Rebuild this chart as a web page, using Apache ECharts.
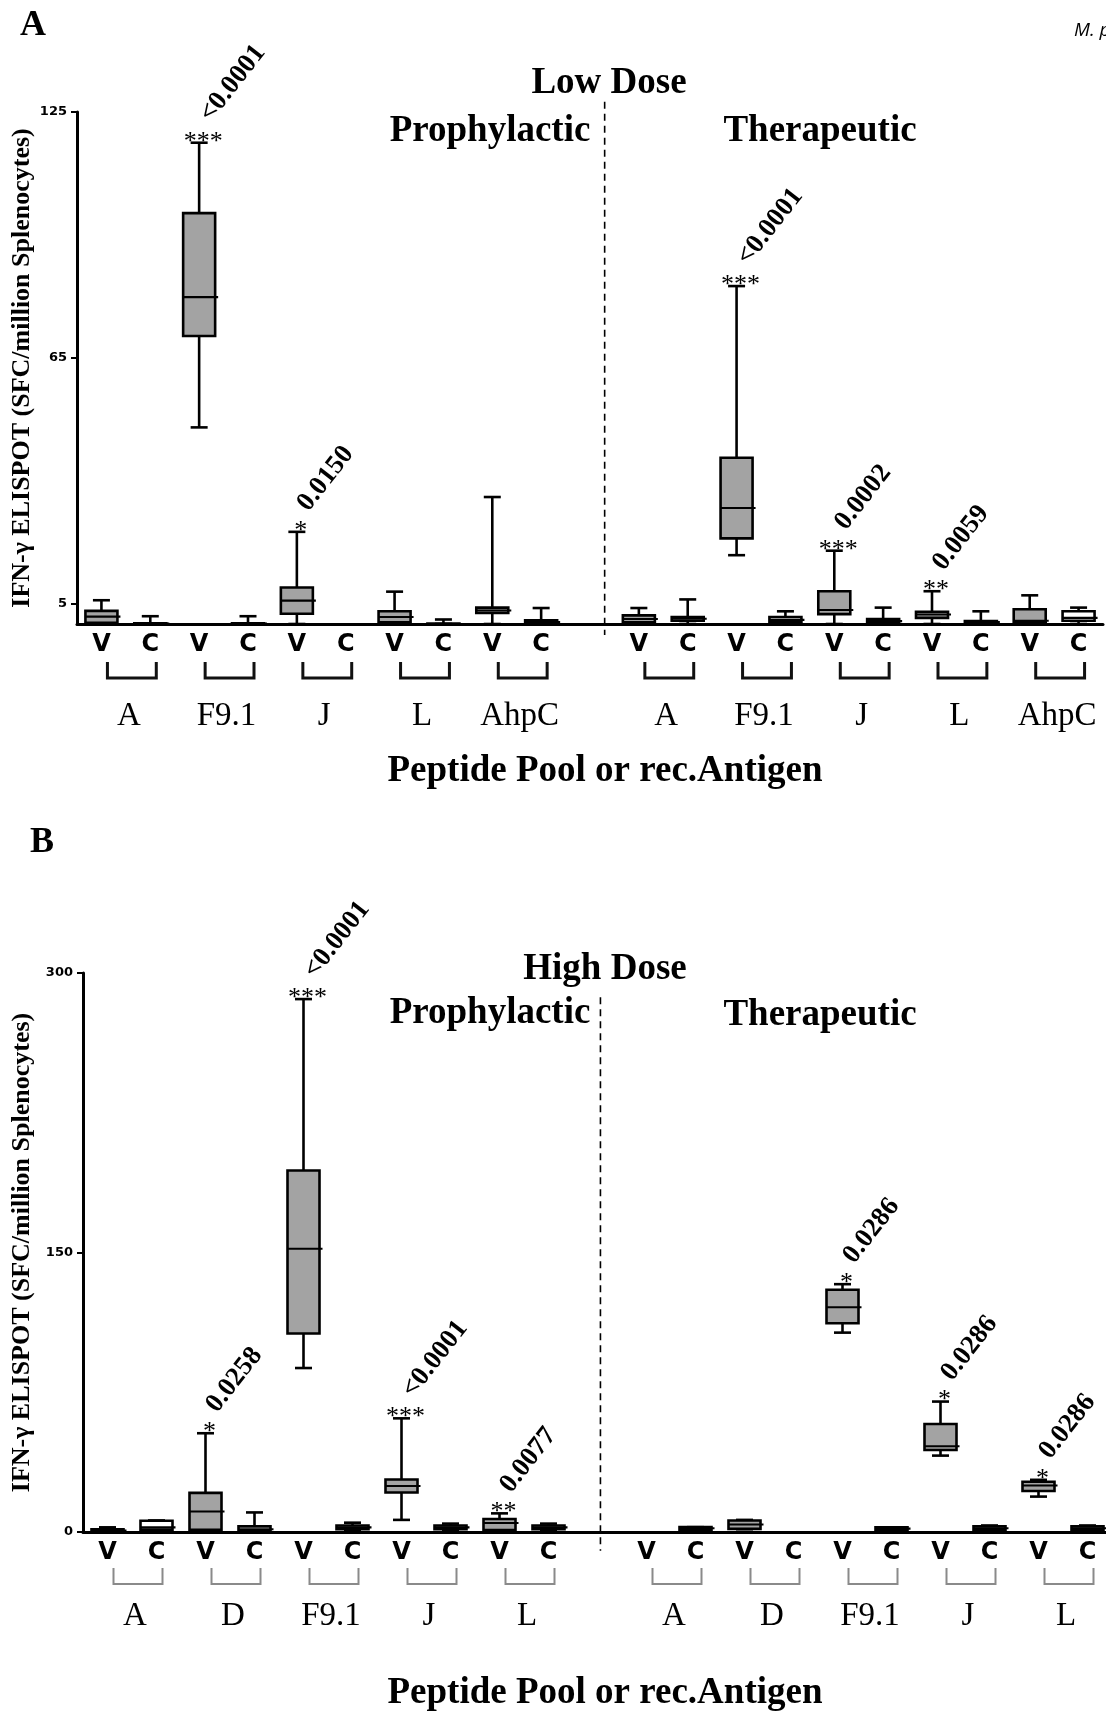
<!DOCTYPE html>
<html><head><meta charset="utf-8">
<script src="https://cdn.jsdelivr.net/npm/echarts@6/dist/echarts.min.js"></script>
<style>html,body{margin:0;padding:0;background:#fff}#c{width:1106px;height:1716px}</style>
</head><body><div id="c"></div>
<script>
// ---------- data ----------
const vcLabels = ['V', 'C'];
const groupsLow = ['A', 'F9.1', 'J', 'L', 'AhpC'];
const groupsHigh = ['A', 'D', 'F9.1', 'J', 'L'];
const yTicksLow = [5, 65, 125];
const yTicksHigh = [0, 150, 300];
// box values: [min, q1, median, q3, max]
const lowProV  = [[0,0.3,1.8,3.2,5.8],[48,70.3,79.8,100.3,117.5],[0,2.5,5.7,8.9,22.5],[0,0.4,1.7,3.1,7.9],[0,2.7,3.3,4.0,31]];
const lowProC  = [[0,0,0.1,0.2,1.9],[0,0,0.1,0.2,1.9],null,[0,0,0,0.1,1.1],[0,0.2,0.5,0.9,3.9]];
const lowTherV = [[0,0.4,1.2,2.1,3.9],[16.8,20.9,28.3,40.6,82.5],[0,2.4,3.4,8.0,17.9],[0,1.5,2.3,3.0,8.0],[0,0.4,0.8,3.6,7.0]];
const lowTherC = [[0,0.8,1.3,1.7,6.0],[0,0.4,1.0,1.7,3.1],[0,0.3,0.7,1.2,4.0],[0,0.2,0.5,0.7,3.1],[0,0.8,1.5,3.1,4.0]];
const highProV  = [[0,0.3,0.8,1.5,2.5],[0,1.2,11,21,53],[88,106.5,152,194,286],[6.5,21.2,24.7,28.2,61],[0,1,4.8,7,10]];
const highProC  = [[0.5,1.3,2.5,6.0,6.2],[0,0.5,1.5,3,10.5],[0.5,1.5,2.5,3.5,5],[0.5,1.5,2.5,3.5,4.5],[0.5,1.5,2.5,3.5,4.5]];
const highTherV = [null,[1.5,1.7,4,6.2,6.5],[107,112,120.6,130,133],[41,44,46,58,70],[19,22,25,27,28]];
const highTherC = [[1,1.2,2,2.6,2.6],null,[0.8,1,1.8,2.5,2.5],[0,1,2,3,3.5],[0.5,1,2,3,3.5]];
// significance: [regimen, group, stars, p-value]
const lowSig = [['pro','F9.1','***','<0.0001'],['pro','J','*','0.0150'],['ther','F9.1','***','<0.0001'],['ther','J','***','0.0002'],['ther','L','**','0.0059']];
const highSig = [['pro','D','*','0.0258'],['pro','F9.1','***','<0.0001'],['pro','J','***','<0.0001'],['pro','L','**','0.0077'],['ther','F9.1','*','0.0286'],['ther','J','*','0.0286'],['ther','L','*','0.0286']];

// ---------- build tables ----------
function slotOf(reg, g, k) { return (reg === 'pro' ? 0 : 11) + g * 2 + k; }
function buildPanel(groups, proV, proC, therV, therC, sig) {
  const labels = [];
  groups.forEach(() => vcLabels.forEach(l => labels.push(l)));
  labels.push('');
  groups.forEach(() => vcLabels.forEach(l => labels.push(l)));
  const boxes = [];
  const add = (arr, reg, k) => arr.forEach((b, g) => { if (b) boxes.push([slotOf(reg, g, k)].concat(b, [k === 0 ? 1 : 0])); });
  add(proV, 'pro', 0); add(proC, 'pro', 1); add(therV, 'ther', 0); add(therC, 'ther', 1);
  const brackets = [], bracketNames = [];
  ['pro', 'ther'].forEach(reg => groups.forEach((name, g) => { brackets.push([slotOf(reg, g, 0), slotOf(reg, g, 1)]); bracketNames.push(name); }));
  const sigData = sig.map(s => {
    const g = groups.indexOf(s[1]);
    const v = (s[0] === 'pro' ? proV : therV)[g];
    return [slotOf(s[0], g, 0), v[4]];
  });
  return { labels, boxes, brackets, bracketNames, sigData, sigText: sig };
}
const low = buildPanel(groupsLow, lowProV, lowProC, lowTherV, lowTherC, lowSig);
const high = buildPanel(groupsHigh, highProV, highProC, highTherV, highTherC, highSig);

const SERIF = '"Liberation Serif", "Times New Roman", serif';
const SANS = '"DejaVu Sans", sans-serif';

function boxRender(lw) {
  return function (params, api) {
    const x = api.value(0);
    const v = [1, 2, 3, 4, 5].map(i => api.value(i));
    const isV = api.value(6);
    const p = v.map(val => api.coord([x, val]));
    const cx = p[0][0], hw = 16, cap = 8.5;
    const st = { stroke: '#000', lineWidth: lw };
    return { type: 'group', children: [
      { type: 'line', shape: { x1: cx, y1: p[0][1], x2: cx, y2: p[1][1] }, style: st },
      { type: 'line', shape: { x1: cx, y1: p[3][1], x2: cx, y2: p[4][1] }, style: st },
      { type: 'line', shape: { x1: cx - cap, y1: p[0][1], x2: cx + cap, y2: p[0][1] }, style: st },
      { type: 'line', shape: { x1: cx - cap, y1: p[4][1], x2: cx + cap, y2: p[4][1] }, style: st },
      { type: 'rect', shape: { x: cx - hw, y: p[3][1], width: 2 * hw, height: p[1][1] - p[3][1] },
        style: { fill: isV ? '#a3a3a3' : '#ffffff', stroke: '#000', lineWidth: lw } },
      { type: 'line', shape: { x1: cx - hw, y1: p[2][1], x2: cx + hw + 3, y2: p[2][1] }, style: { stroke: '#000', lineWidth: lw * 0.8 } }
    ]};
  };
}
function bracketRender(panel, color, lw, legTop, legBot, labelDy) {
  return function (params, api) {
    const a = api.coord([api.value(0), 0]);
    const b = api.coord([api.value(1), 0]);
    const y0 = a[1];
    const x1 = a[0] + 6, x2 = b[0] + 6;
    return { type: 'group', children: [
      { type: 'polyline', shape: { points: [[x1, y0 + legTop], [x1, y0 + legBot], [x2, y0 + legBot], [x2, y0 + legTop]] },
        style: { stroke: color, lineWidth: lw, fill: null } },
      { type: 'text', x: (a[0] + b[0]) / 2 + 3, y: y0 + labelDy,
        style: { text: panel.bracketNames[params.dataIndex], font: '33px ' + SERIF, fill: '#000',
          align: 'center', verticalAlign: 'middle', textAlign: 'center', textVerticalAlign: 'middle' } }
    ]};
  };
}
function sigRender(panel) {
  return function (params, api) {
    const p = api.coord([api.value(0), api.value(1)]);
    const s = panel.sigText[params.dataIndex];
    return { type: 'group', children: [
      { type: 'text', x: p[0] + 4, y: p[1] - 1,
        style: { text: s[2], font: '26px ' + SERIF, fill: '#000', align: 'center', verticalAlign: 'middle', textAlign: 'center', textVerticalAlign: 'middle' } },
      { type: 'text', x: p[0] + 6, y: p[1] - 24, rotation: 52 * Math.PI / 180,
        style: { text: s[3], font: 'bold 27px ' + SERIF, fill: '#000', align: 'left', verticalAlign: 'middle', textAlign: 'left', textVerticalAlign: 'middle' } }
    ]};
  };
}
// dashed divider placed a fraction of the way from the spacer slot (10) to the next slot (11)
function dividerRender(frac, yTop, yBot) {
  return function (params, api) {
    const a0 = api.coord([10, yTop]), a1 = api.coord([11, yTop]);
    const b0 = api.coord([10, yBot]);
    const x = a0[0] + frac * (a1[0] - a0[0]);
    return { type: 'line', shape: { x1: x, y1: a0[1], x2: x, y2: b0[1] },
      style: { stroke: '#000', lineWidth: 1.6, lineDash: [7, 5] } };
  };
}

function xAxisCfg(gi, labels) {
  return { type: 'category', gridIndex: gi, data: labels, boundaryGap: true,
    axisLine: { lineStyle: { color: '#000', width: 3 } },
    axisTick: { alignWithLabel: true, length: 6, lineStyle: { color: '#000', width: 2 } },
    axisLabel: { interval: 0, color: '#000', fontFamily: SANS, fontWeight: 'bold', fontSize: 24, margin: 9 },
    splitLine: { show: false } };
}
function yAxisCfg(gi, max, ticks, gap) {
  return { type: 'value', gridIndex: gi, min: 0, max: max,
    axisLine: { show: true, lineStyle: { color: '#000', width: 3 } },
    axisTick: { show: true, length: 6, lineStyle: { color: '#000', width: 2 }, customValues: ticks },
    axisLabel: { customValues: ticks, color: '#000', fontFamily: SANS, fontWeight: 'bold', fontSize: 13, margin: 10 },
    splitLine: { show: false },
    name: 'IFN-γ ELISPOT (SFC/million Splenocytes)', nameLocation: 'middle', nameGap: gap, nameMoveOverlap: false,
    nameTextStyle: { fontFamily: SERIF, fontWeight: 'bold', fontSize: 26, color: '#000' } };
}
function txt(x, y, text, font, align) {
  return { type: 'text', x: x, y: y, style: { text: text, font: font, fill: '#000',
    align: align || 'center', verticalAlign: 'middle', textAlign: align || 'center', textVerticalAlign: 'middle' } };
}

const chart = echarts.init(document.getElementById('c'), null, { renderer: 'canvas' });
chart.setOption({
  backgroundColor: '#fff',
  animation: false,
  grid: [
    { left: 77, right: 3, top: 112, height: 512, containLabel: false, outerBoundsMode: 'none' },
    { left: 83, right: -6, top: 973, height: 559, containLabel: false, outerBoundsMode: 'none' }
  ],
  xAxis: [xAxisCfg(0, low.labels), xAxisCfg(1, high.labels)],
  yAxis: [yAxisCfg(0, 125, yTicksLow, 42), yAxisCfg(1, 300, yTicksHigh, 48)],
  graphic: { elements: [
    txt(33, 26, 'A', 'bold 36px ' + SERIF),
    txt(1074, 31, 'M. p', 'italic 19px "Open Sans", sans-serif', 'left'),
    txt(609, 83, 'Low Dose', 'bold 37px ' + SERIF),
    txt(490, 131, 'Prophylactic', 'bold 37px ' + SERIF),
    txt(820, 131, 'Therapeutic', 'bold 37px ' + SERIF),
    txt(605, 771, 'Peptide Pool or rec.Antigen', 'bold 37px ' + SERIF),
    txt(42, 843, 'B', 'bold 36px ' + SERIF),
    txt(605, 969, 'High Dose', 'bold 37px ' + SERIF),
    txt(490, 1013, 'Prophylactic', 'bold 37px ' + SERIF),
    txt(820, 1015, 'Therapeutic', 'bold 37px ' + SERIF),
    txt(605, 1693, 'Peptide Pool or rec.Antigen', 'bold 37px ' + SERIF)
  ]},
  series: [
    { type: 'custom', xAxisIndex: 0, yAxisIndex: 0, data: [[0]], renderItem: dividerRender(0.3, 127.5, -2.7), silent: true, clip: false, z: 1 },
    { type: 'custom', xAxisIndex: 1, yAxisIndex: 1, data: [[0]], renderItem: dividerRender(0.06, 287, -10), silent: true, clip: false, z: 1 },
    { type: 'custom', name: 'Low Dose', xAxisIndex: 0, yAxisIndex: 0, data: low.boxes, encode: { x: 0, y: [1, 2, 3, 4, 5] }, renderItem: boxRender(2.6), clip: false, z: 3 },
    { type: 'custom', name: 'High Dose', xAxisIndex: 1, yAxisIndex: 1, data: high.boxes, encode: { x: 0, y: [1, 2, 3, 4, 5] }, renderItem: boxRender(2.6), clip: false, z: 3 },
    { type: 'custom', xAxisIndex: 0, yAxisIndex: 0, data: low.brackets, renderItem: bracketRender(low, '#111', 3, 38, 54, 92), silent: true, clip: false },
    { type: 'custom', xAxisIndex: 1, yAxisIndex: 1, data: high.brackets, renderItem: bracketRender(high, '#8a8a8a', 2, 36, 52, 84), silent: true, clip: false },
    { type: 'custom', xAxisIndex: 0, yAxisIndex: 0, data: low.sigData, renderItem: sigRender(low), silent: true, clip: false, z: 4 },
    { type: 'custom', xAxisIndex: 1, yAxisIndex: 1, data: high.sigData, renderItem: sigRender(high), silent: true, clip: false, z: 4 }
  ]
});
</script></body></html>
